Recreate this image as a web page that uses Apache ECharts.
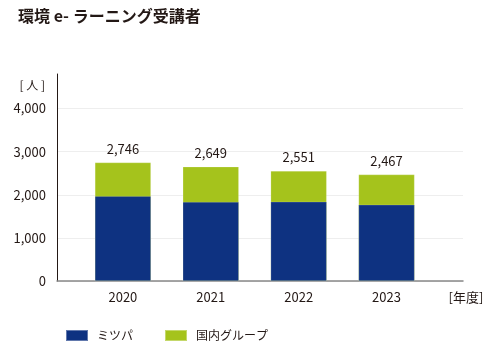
<!DOCTYPE html>
<html>
<head>
<meta charset="utf-8">
<script src="https://cdn.jsdelivr.net/npm/echarts@6/dist/echarts.min.js"></script>
<style>
  html, body { margin: 0; padding: 0; background: #fff; }
  #chart { width: 500px; height: 350px; }
</style>
</head>
<body>
<div id="chart"></div>
<script>
// fiscal years
var years = [2020, 2021, 2022, 2023];
// ミツパ (blue, lower part of each bar)
var mitsuba = [1968, 1830, 1835, 1766];
// totals (ミツパ + 国内グループ), shown above bars
var totals = [2746, 2649, 2551, 2467];
var yTicks = [0, 1000, 2000, 3000, 4000];

var FONT = '"Noto Sans CJK JP", "Noto Sans", sans-serif';
var BLUE = '#0e3281';
var GREEN = '#a5c31c';

function pairs(vals) {
  return years.map(function (y, i) { return [y, vals[i]]; });
}

var chart = echarts.init(document.getElementById('chart'), null, { renderer: 'canvas' });

var option = {
  animation: false,
  backgroundColor: '#fff',
  textStyle: { fontFamily: FONT },
  title: {
    text: '環境 e- ラーニング受講者',
    left: 18,
    top: 8,
    padding: 0,
    textStyle: { fontFamily: FONT, fontSize: 16, fontWeight: 'bold', color: '#231815' }
  },
  legend: {
    left: 60,
    top: 324,
    itemWidth: 22,
    itemHeight: 11,
    itemGap: 31,
    icon: 'rect',
    textStyle: { fontFamily: FONT, fontSize: 12, color: '#231815', padding: [0, 0, 0, 4] },
    data: ['ミツパ', '国内グループ']
  },
  grid: { left: 57, right: 37, top: 74, bottom: 69, containLabel: false },
  xAxis: {
    type: 'value',
    min: 2019.25,
    max: 2023.87,
    name: '[年度]',
    nameLocation: 'end',
    nameGap: 3,
    nameTextStyle: { fontFamily: FONT, fontSize: 13, color: '#231815', padding: [10, 0, 0, 0], verticalAlign: 'top', align: 'center' },
    axisLine: { show: true, lineStyle: { color: '#888', width: 1.5 } },
    axisTick: { show: false },
    splitLine: { show: false },
    axisLabel: {
      customValues: years,
      margin: 10,
      fontSize: 13,
      color: '#231815',
      fontFamily: FONT,
      formatter: function (v) { return String(v); }
    }
  },
  yAxis: {
    type: 'value',
    min: 0,
    max: 4800,
    interval: 1000,
    name: '[ 人 ]',
    nameLocation: 'end',
    nameGap: -17,
    nameTextStyle: { fontFamily: FONT, fontSize: 12, color: '#231815', align: 'right', padding: [0, 12, 0, 0] },
    axisLine: { show: true, lineStyle: { color: '#231815', width: 1 } },
    axisTick: { show: false },
    axisLabel: {
      customValues: yTicks,
      margin: 11,
      fontSize: 13,
      color: '#231815',
      fontFamily: FONT,
      formatter: function (v) { return v.toLocaleString('en-US'); }
    },
    splitLine: {
      show: true,
      lineStyle: { color: ['#eeeeee', '#eeeeee', '#eeeeee', '#eeeeee', '#eeeeee', 'rgba(0,0,0,0)'], width: 1 }
    }
  },
  series: [
    {
      // full-height bar (total); the ミツパ part is drawn over its lower portion
      name: '国内グループ',
      type: 'bar',
      barWidth: 56,
      barGap: '-100%',
      z: 2,
      itemStyle: { color: GREEN, borderColor: 'rgba(255,255,255,0.35)', borderWidth: 0.5 },
      label: {
        show: true,
        position: 'top',
        distance: 7,
        fontSize: 13,
        color: '#231815',
        fontFamily: FONT,
        formatter: function (p) { return p.value[1].toLocaleString('en-US'); }
      },
      data: pairs(totals)
    },
    {
      name: 'ミツパ',
      type: 'bar',
      barWidth: 56,
      barGap: '-100%',
      z: 3,
      itemStyle: { color: BLUE, borderColor: 'rgba(255,255,255,0.35)', borderWidth: 0.5 },
      data: pairs(mitsuba)
    }
  ]
};

chart.setOption(option);
</script>
</body>
</html>
